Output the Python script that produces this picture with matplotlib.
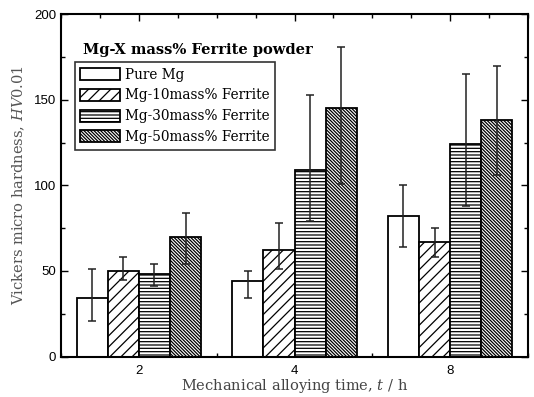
import numpy as np
import matplotlib
matplotlib.use('Agg')
import matplotlib.pyplot as plt
from matplotlib.ticker import MultipleLocator, FixedLocator

plt.rcParams['hatch.linewidth'] = 0.9
plt.rcParams['mathtext.fontset'] = 'dejavuserif'

times = ['2', '4', '8']
series = ['Pure Mg', 'Mg-10mass% Ferrite', 'Mg-30mass% Ferrite', 'Mg-50mass% Ferrite']
hardness = [
    [34, 44, 82],
    [50, 62, 67],
    [48, 109, 124],
    [70, 145, 138],
]
err_low = [
    [13, 10, 18],
    [5, 11, 9],
    [7, 30, 36],
    [16, 44, 32],
]
err_high = [
    [17, 6, 18],
    [8, 16, 8],
    [6, 44, 41],
    [14, 36, 32],
]
hatches = ['', '///', '-----', '\\' * 10]

fig = plt.figure(figsize=(5.34, 3.97), dpi=100)
ax = fig.add_axes([0.1142, 0.102, 0.8746, 0.862])

x = np.arange(1, len(times) + 1)
width = 0.2
for i, name in enumerate(series):
    pos = x + (i - 1.5) * width
    ax.bar(pos, hardness[i], width, facecolor='white', edgecolor='black',
           linewidth=1.3, hatch=hatches[i], label=name, zorder=2)
    ax.errorbar(pos, hardness[i], yerr=[err_low[i], err_high[i]], fmt='none',
                ecolor='#222222', elinewidth=1.1, capsize=3, capthick=1.1, zorder=3)

ax.set_xlim(0.5, 3.5)
ax.set_ylim(0, 200)
ax.xaxis.set_major_locator(FixedLocator(x))
ax.set_xticklabels(times)
ax.xaxis.set_minor_locator(MultipleLocator(0.25))
ax.yaxis.set_major_locator(MultipleLocator(50))
ax.yaxis.set_minor_locator(MultipleLocator(25))
ax.tick_params(which='both', direction='in', top=True, right=True, width=1.0)
ax.tick_params(which='major', length=5, labelsize=9.5)
ax.tick_params(which='minor', length=3)
ax.tick_params(axis='x', which='major', pad=6)
for lab in ax.get_xticklabels() + ax.get_yticklabels():
    lab.set_fontfamily('Liberation Sans')
for s in ax.spines.values():
    s.set_linewidth(1.5)

ax.set_ylabel('Vickers micro hardness, $\\mathit{HV}$0.01', family='DejaVu Serif',
              fontsize=10.5, color='#555555', labelpad=5)
ax.set_xlabel('Mechanical alloying time, $\\mathit{t}$ / h', family='DejaVu Serif',
              fontsize=10.5, color='#444444', labelpad=0)

ax.text(0.048, 0.895, 'Mg-X mass% Ferrite powder', transform=ax.transAxes,
        family='DejaVu Serif', fontweight='bold', fontsize=10.5, va='center')
leg = ax.legend(loc='upper left', bbox_to_anchor=(0.03, 0.86), frameon=True,
                fancybox=False, edgecolor='black', prop={'family': 'DejaVu Serif', 'size': 9.8},
                handlelength=2.9, handleheight=1.0, borderpad=0.4, labelspacing=0.5,
                handletextpad=0.35, borderaxespad=0)
leg.get_frame().set_linewidth(1.2)

fig.savefig('out.png', dpi=100)
